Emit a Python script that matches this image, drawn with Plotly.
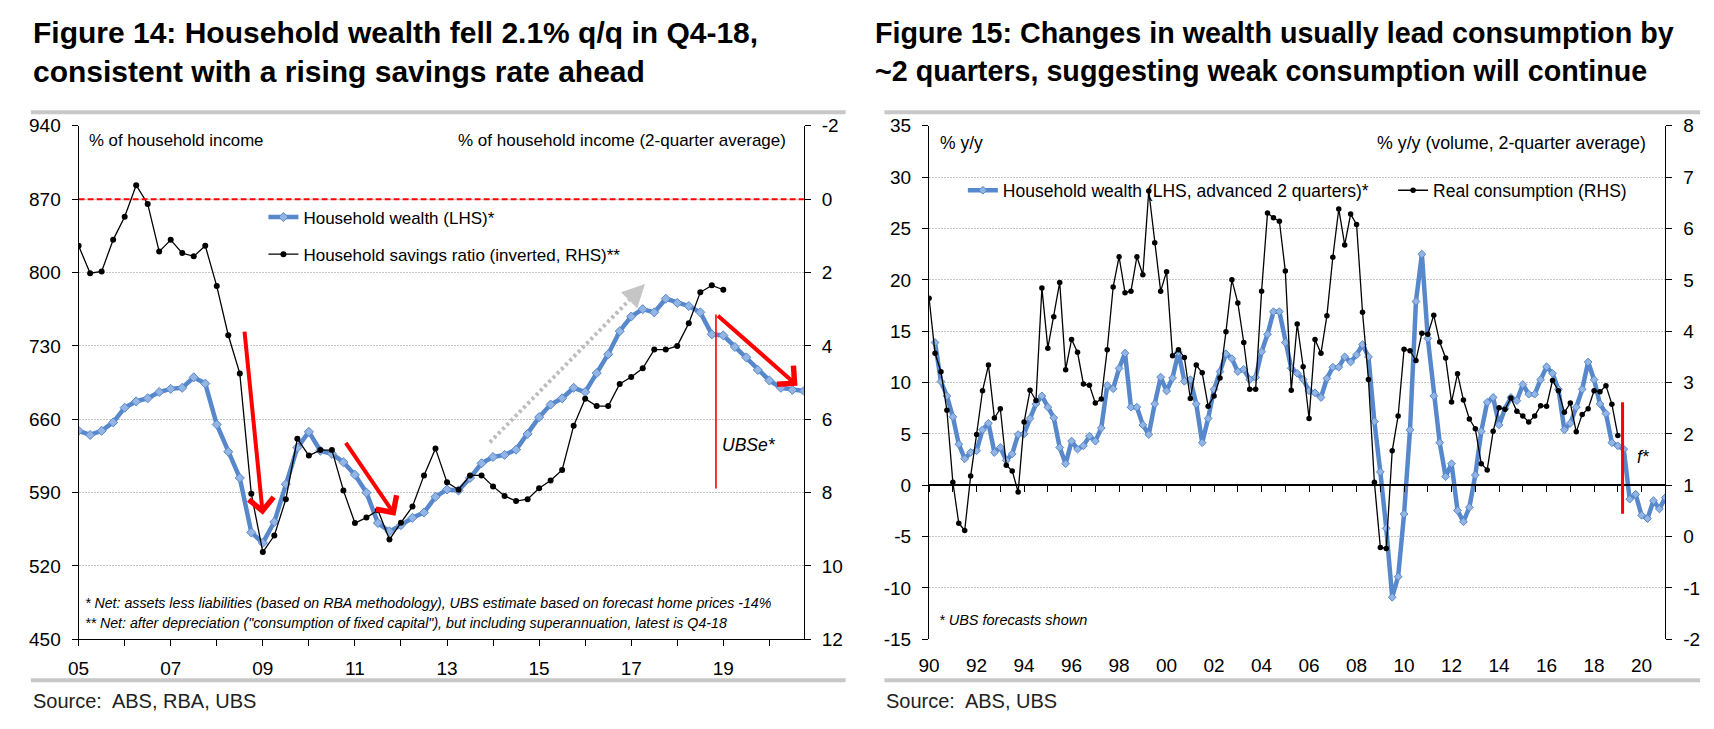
import plotly.graph_objects as go

# page is rendered with an 8px body margin: figure coords = page coords - 8
OFF = 8
W, H = 1706, 721
def px(x): return (x - OFF) / W
def py(y): return 1 - (y - OFF) / H

FONT = "Liberation Sans, Arial, sans-serif"

# ---------------- Figure 14 data (quarterly from 2005 Q1) ----------------
fig14_start = 2005
wealth14 = [649, 645, 649, 657, 671, 677, 680, 686, 689, 690, 700, 694,
            655, 629, 604, 552, 542, 562, 598, 633, 648, 630, 627, 619,
            607, 590, 561, 553, 559, 566, 571, 586, 593, 592, 604, 618,
            624, 626, 631, 646, 662, 674, 680, 690, 686, 704, 722, 744,
            758, 765, 762, 775, 771, 768, 762, 741, 740, 729, 719, 707,
            697, 690, 688, 687]
savings14 = [1.27, 2.02, 1.97, 1.11, 0.48, -0.38, 0.13, 1.43, 1.11, 1.47, 1.56, 1.27,
             2.37, 3.71, 4.75, 8.03, 9.62, 9.17, 8.18, 6.53, 6.99, 6.84, 6.84, 7.94,
             8.83, 8.68, 8.48, 9.28, 8.82, 8.38, 7.53, 6.80, 7.72, 7.92, 7.53, 7.53,
             7.83, 8.09, 8.23, 8.18, 7.88, 7.67, 7.38, 6.18, 5.44, 5.64, 5.64, 5.04,
             4.85, 4.61, 4.10, 4.10, 4.00, 3.38, 2.54, 2.35, 2.47]
x14_tickvals = list(range(2005, 2021))
x14_ticktext = ["05", "", "07", "", "09", "", "11", "", "13", "", "15", "", "17", "", "19", ""]
y14_left = [450, 520, 590, 660, 730, 800, 870, 940]
y14_right = [-2, 0, 2, 4, 6, 8, 10, 12]
y14_right_text = ["-2", "0", "2", "4", "6", "8", "10", "12"]

# ---------------- Figure 15 data (quarterly from 1990 Q1) ----------------
cons_start = 1990.0
consumption15 = [4.64, 3.57, 3.21, 2.46, 1.06, 0.26, 0.12, 1.18, 1.99, 2.84, 3.34, 2.31,
                 2.49, 1.39, 1.28, 0.87, 2.23, 2.85, 2.65, 4.84, 3.67, 4.28, 4.95, 3.25,
                 3.84, 3.59, 2.97, 2.95, 2.60, 2.68, 3.64, 4.86, 5.45, 4.75, 4.78, 5.45,
                 5.10, 6.73, 5.72, 4.78, 5.16, 3.52, 3.64, 3.49, 2.69, 3.34, 3.19, 2.54,
                 2.74, 3.09, 3.99, 5.00, 4.55, 3.78, 2.87, 2.87, 4.78, 6.30, 6.21, 6.14,
                 5.17, 2.85, 4.14, 3.31, 2.30, 3.84, 3.57, 4.30, 5.44, 6.38, 5.68, 6.28,
                 6.08, 4.37, 3.06, 1.06, -0.21, -0.23, 1.67, 2.35, 3.65, 3.62, 3.43, 3.96,
                 3.94, 4.31, 3.79, 3.48, 2.62, 3.17, 2.66, 2.29, 2.10, 1.42, 1.30, 2.05,
                 2.51, 2.48, 2.70, 2.44, 2.35, 2.23, 2.35, 2.55, 2.54, 3.04, 2.84, 2.42,
                 2.60, 2.04, 2.38, 2.49, 2.84, 2.82, 2.94, 2.58, 1.97]
wealth_start = 1990.25
wealth15 = [13.9, 10.1, 8.7, 6.67, 4.0, 2.58, 3.2, 3.36, 5.4, 6.04, 3.2, 3.68,
            2.42, 3.05, 4.94, 5.0, 6.5, 7.92, 8.7, 7.6, 6.57, 3.68, 2.1, 4.3,
            3.52, 3.84, 4.78, 4.3, 5.57, 9.72, 9.4, 11.38, 12.86, 7.6, 7.6, 5.88,
            4.94, 7.92, 10.53, 9.18, 10.44, 12.96, 10.13, 10.28, 7.92, 4.15, 6.5, 9.34,
            11.07, 12.8, 12.33, 11.07, 11.29, 10.28, 10.5, 13.0, 14.7, 16.9, 16.9, 13.9,
            11.4, 10.9, 10.3, 9.2, 9.0, 8.55, 10.4, 11.5, 11.5, 12.5, 12.0, 12.7,
            13.7, 12.5, 6.2, 1.3, -4.2, -10.9, -8.9, -2.8, 5.4, 17.9, 22.5, 14.3,
            8.7, 4.15, 0.85, 2.1, -2.45, -3.55, -2.14, 1.0, 5.25, 8.08, 8.55, 5.88,
            7.45, 8.55, 8.24, 9.81, 8.87, 8.87, 10.28, 11.54, 10.9, 9.34, 5.4, 6.04,
            7.6, 9.34, 12.0, 10.28, 7.92, 6.98, 4.15, 3.84, 3.52, -1.35, -0.88, -2.92,
            -3.24, -1.5, -2.3, -1.2]
x15_ticks_all = list(range(1990, 2022))
x15_labvals = list(range(1990, 2021, 2))
x15_labtext = ["90", "92", "94", "96", "98", "00", "02", "04", "06", "08", "10", "12", "14", "16", "18", "20"]
y15_left = [-15, -10, -5, 0, 5, 10, 15, 20, 25, 30, 35]
y15_left_text = ["-15", "-10", "-5", "0", "5", "10", "15", "20", "25", "30", "35"]
y15_right = [-2, -1, 0, 1, 2, 3, 4, 5, 6, 7, 8]
y15_right_text = ["-2", "-1", "0", "1", "2", "3", "4", "5", "6", "7", "8"]

# annotation geometry (data coords)
arrow14 = [  # (tail_x, tail_y, head_x, head_y)
    (2008.60, 745, 2009.00, 569),
    (2010.78, 639, 2011.88, 568),
    (2018.85, 760, 2020.61, 692),
]
gray_arrow14 = (2013.93, 638, 2017.30, 789)
ubse_line14 = (2018.84, 594, 760)
forecast_line15 = (2019.2, -2.77, 8.08)

BLUE = "#5888CC"
BLUE_M = "#93B5E3"
GRID = "#c4c4c4"

q14 = [fig14_start + i / 4 for i in range(len(wealth14))]
qs14 = [fig14_start + i / 4 for i in range(len(savings14))]
qc15 = [cons_start + i / 4 for i in range(len(consumption15))]
qw15 = [wealth_start + i / 4 for i in range(len(wealth15))]

fig = go.Figure()
fig.add_trace(go.Scatter(x=q14, y=wealth14, xaxis="x", yaxis="y", mode="lines+markers",
                         name="Household wealth (LHS)*", legend="legend", legendgroup="a",
                         line=dict(color=BLUE, width=4.5),
                         marker=dict(symbol="diamond", size=7, color=BLUE_M, line=dict(color=BLUE, width=1))))
fig.add_trace(go.Scatter(x=qs14, y=savings14, xaxis="x", yaxis="y2", mode="lines+markers",
                         name="Household savings ratio (inverted, RHS)**", legend="legend", legendgroup="b",
                         line=dict(color="black", width=1.3),
                         marker=dict(symbol="circle", size=6, color="black")))
fig.add_trace(go.Scatter(x=qw15, y=wealth15, xaxis="x3", yaxis="y3", mode="lines+markers",
                         name="Household wealth (LHS, advanced 2 quarters)*&nbsp;&nbsp;&nbsp;&nbsp;",
                         legend="legend2",
                         line=dict(color=BLUE, width=4.5),
                         marker=dict(symbol="diamond", size=6, color=BLUE_M, line=dict(color=BLUE, width=1))))
fig.add_trace(go.Scatter(x=qc15, y=consumption15, xaxis="x3", yaxis="y4", mode="lines+markers",
                         name="Real consumption (RHS)", legend="legend2",
                         line=dict(color="black", width=1.3),
                         marker=dict(symbol="circle", size=5.5, color="black")))
# carrier trace for the zero-line axis of figure 15
fig.add_trace(go.Scatter(x=[None], y=[None], xaxis="x4", yaxis="y3", showlegend=False, hoverinfo="skip"))

tickfont = dict(family=FONT, size=19, color="black")
Ltop, Lbot = 119, 648
ydom = [py(Lbot), py(Ltop)]
x1dom = [px(68), px(798)]
x2dom = [px(924), px(1665)]

common_y = dict(showline=True, linecolor="black", linewidth=1.2, ticks="outside", ticklen=6,
                tickcolor="black", tickfont=tickfont, zeroline=False, ticklabelstandoff=7)

fig.update_layout(
    width=W, height=H, margin=dict(l=0, r=0, t=0, b=0), autosize=False,
    paper_bgcolor="white", plot_bgcolor="white",
    font=dict(family=FONT, color="black"),
    xaxis=dict(domain=x1dom, anchor="y", range=[2005, 2020.75], tickvals=x14_tickvals, ticktext=x14_ticktext,
               ticks="outside", ticklen=6, tickcolor="black", showline=True, linecolor="black", linewidth=1.2,
               showgrid=False, zeroline=False, tickfont=tickfont, ticklabelstandoff=6),
    yaxis=dict(domain=ydom, anchor="x", range=[450, 940], tickvals=y14_left, showgrid=True,
               gridcolor=GRID, gridwidth=1.3, griddash="2px,1px", **common_y),
    yaxis2=dict(overlaying="y", side="right", anchor="x", range=[12, -2], tickvals=y14_right,
                ticktext=y14_right_text, showgrid=False, **common_y),
    xaxis3=dict(domain=x2dom, anchor="y3", range=[1990, 2021], tickvals=x15_labvals, ticktext=x15_labtext,
                ticks="", showline=False, showgrid=False, zeroline=False, tickfont=tickfont,
                ticklabelstandoff=13),
    xaxis4=dict(overlaying="x3", anchor="free", position=py(489), range=[1990, 2021],
                tickvals=x15_ticks_all, showticklabels=False, ticks="outside", ticklen=6,
                tickcolor="black", showline=True, linecolor="black", linewidth=1.5, showgrid=False,
                zeroline=False),
    yaxis3=dict(domain=ydom, anchor="x3", range=[-15, 35], tickvals=y15_left, ticktext=y15_left_text,
                showgrid=True, gridcolor=GRID, gridwidth=1.3, griddash="2px,1px", **common_y),
    yaxis4=dict(overlaying="y3", side="right", anchor="x3", range=[-2, 8], tickvals=y15_right,
                ticktext=y15_right_text, showgrid=False, **common_y),
    legend=dict(x=px(254), y=py(195), xanchor="left", yanchor="top", bgcolor="rgba(0,0,0,0)",
                font=dict(family=FONT, size=17), tracegroupgap=12, traceorder="grouped",
                itemwidth=30),
    legend2=dict(x=px(958), y=py(167), xanchor="left", yanchor="top", orientation="h",
                 bgcolor="rgba(0,0,0,0)", font=dict(family=FONT, size=17.5), itemwidth=30),
    showlegend=True,
)

shapes = []
# separator rules
for (x0, x1) in [(20, 840), (879, 1700)]:
    for yy in (105, 690):
        shapes.append(dict(type="line", xref="paper", yref="paper", x0=px(x0), x1=px(x1), y0=py(yy), y1=py(yy),
                           line=dict(color="#c8c8c8", width=4)))
# red dashed zero savings line (0 on RHS)
shapes.append(dict(type="line", xref="x", yref="y2", x0=2005, x1=2020.75, y0=0, y1=0,
                   line=dict(color="#ff0000", width=2, dash="6px,3px")))
# UBSe vertical line
shapes.append(dict(type="line", xref="x", yref="y", x0=ubse_line14[0], x1=ubse_line14[0],
                   y0=ubse_line14[1], y1=ubse_line14[2], line=dict(color="#ff0000", width=1.6)))
# gray dotted arrow shaft
gx0, gy0, gx1, gy1 = gray_arrow14
shapes.append(dict(type="line", xref="x", yref="y", x0=gx0, y0=gy0, x1=gx0 + (gx1 - gx0) * 0.93,
                   y1=gy0 + (gy1 - gy0) * 0.93, line=dict(color="#bdbdbd", width=4, dash="3px,3px")))
# forecast line fig 15
shapes.append(dict(type="line", xref="x3", yref="y3", x0=forecast_line15[0], x1=forecast_line15[0],
                   y0=forecast_line15[1], y1=forecast_line15[2], line=dict(color="#ff0000", width=3)))
fig.update_layout(shapes=shapes)

ann = []
def text(x, y, s, size, xanchor="left", color="black", xref="paper", yref="paper"):
    ann.append(dict(x=x, y=y, xref=xref, yref=yref, text=s, showarrow=False, xanchor=xanchor,
                    yanchor="middle", font=dict(family=FONT, size=size, color=color), align="left"))

# titles
text(px(20), py(23), "<b>Figure 14: Household wealth fell 2.1% q/q in Q4-18,</b>", 30)
text(px(20), py(63), "<b>consistent with a rising savings rate ahead</b>", 30)
text(px(868), py(23), "<b>Figure 15: Changes in wealth usually lead consumption by</b>", 28.7)
text(px(868), py(63), "<b>~2 quarters, suggesting weak consumption will continue</b>", 28.7)
# source
text(px(20), py(712), "Source:&nbsp; ABS, RBA, UBS", 20, color="#222222")
text(px(879), py(712), "Source:&nbsp; ABS, UBS", 20, color="#222222")
# axis captions
text(px(76), py(134), "% of household income", 16.8)
text(px(782), py(134), "% of household income (2-quarter average)", 17, xanchor="right")
text(px(933), py(137), "% y/y", 17.5)
text(px(1648), py(137), "% y/y (volume, 2-quarter average)", 17.8, xanchor="right")
# footnotes
text(px(72), py(611), "<i>* Net: assets less liabilities (based on RBA methodology), UBS estimate based on forecast home prices -14%</i>", 14.2)
text(px(72), py(631), "<i>** Net: after depreciation (\"consumption of fixed capital\"), but including superannuation, latest is Q4-18</i>", 14.2)
text(px(932), py(628), "<i>* UBS forecasts shown</i>", 14.5)
# in-plot labels
text(2019.55, 635, "<i>UBSe*</i>", 17.5, xanchor="center", xref="x", yref="y")
text(2020.08, 2.74, "<i>f*</i>", 17.5, xanchor="center", xref="x3", yref="y3")

# red arrows
for (tx, ty, hx, hy) in arrow14:
    ann.append(dict(x=hx, y=hy, ax=tx, ay=ty, xref="x", yref="y", axref="x", ayref="y", text="",
                    showarrow=True, arrowhead=4, arrowsize=1.2, arrowwidth=4, arrowcolor="#ff0000"))
# gray arrow head
ann.append(dict(x=gx1, y=gy1, ax=gx0 + (gx1 - gx0) * 0.9, ay=gy0 + (gy1 - gy0) * 0.9, xref="x", yref="y",
                axref="x", ayref="y", text="", showarrow=True, arrowhead=2, arrowsize=1.3,
                arrowwidth=3.5, arrowcolor="#c6c6c6"))
fig.update_layout(annotations=ann)

fig.write_html("out.html")
